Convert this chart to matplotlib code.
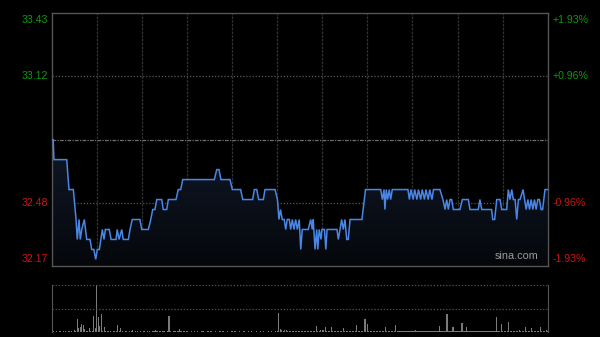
import matplotlib
matplotlib.use('Agg')
import matplotlib.pyplot as plt
import numpy as np
from matplotlib.colors import LinearSegmentedColormap

# ---------------- data ----------------
prev_close = 32.80
pct_range = 0.0193
left_labels = ['33.43', '33.12', '32.48', '32.17']
right_labels = ['+1.93%', '+0.96%', '-0.96%', '-1.93%']
watermark = 'sina.com'

# minutes since open (HK session: 330 trading minutes), last price
price_t = [0, 1, 1.5, 10, 11.5, 14.4, 16.2, 17, 18.2, 19, 20, 21.7, 23.3, 25.5, 26.6,
           28, 29.3, 30.3, 31.7, 33.7, 34.8, 35.7, 38.3, 39.5, 42.8, 43.6, 44.8, 46.6,
           47.6, 51, 52.1, 53.6, 58.7, 59.9, 64.3, 65.9, 67.2, 68.7, 69.9, 73.2, 74.2,
           76.5, 77.6, 82.7, 84.2, 85.8, 87.2, 108.2, 109.8, 111.3, 112.6, 118.6, 120.2,
           125.7, 127.1, 133.7, 134.8, 136.4, 137.7, 140.8, 141.9, 148.6,
           150.2, 151.2, 152.2, 153.4, 154.7, 155.7, 156.7, 158.1, 159, 160.1, 161.2,
           162.3, 163.4, 164.7, 165.7, 166.7, 170.7, 172.3, 173.4, 174, 175.2, 176.3,
           177, 178, 179.2, 179.8, 181.5, 182.4, 183.2, 189.8, 190.7, 191.8, 192.9, 194,
           195.1, 196.3, 197.3, 198.5, 206.4, 208.8, 218.9, 220, 221.1, 221.7, 222.6,
           223.5, 224.6, 225.5, 226.6, 237, 238, 239, 240.5, 241.5, 243, 244, 245.5,
           246.5, 248, 249, 250.5, 251.5, 253, 254, 255, 258.3, 260.3, 261.7, 262.8,
           263.9, 265, 266.1, 267.2, 271.6, 273.2, 277.2, 278.3, 283.8, 284.9, 286.1,
           292.7, 293.4, 294.7, 296.1, 298.3, 299.4, 302.7, 303.8, 304.9, 306.1, 307.1,
           308.3, 309.4, 310.5, 311.6, 313.6, 314.6, 315.7, 316.8, 317.9, 319, 320.1,
           321.2, 322.3, 323.4, 324.5, 325.6, 326.6, 328.2, 330]
price_v = [32.80, 32.80, 32.70, 32.70, 32.55, 32.55, 32.40, 32.30, 32.40, 32.30, 32.35,
           32.40, 32.30, 32.30, 32.25, 32.25, 32.20, 32.25, 32.25, 32.35, 32.30, 32.35,
           32.35, 32.30, 32.30, 32.35, 32.30, 32.35, 32.30, 32.30, 32.35, 32.40, 32.40,
           32.35, 32.35, 32.40, 32.45, 32.45, 32.50, 32.50, 32.45, 32.45, 32.50, 32.50,
           32.55, 32.55, 32.60, 32.60, 32.65, 32.65, 32.60, 32.60, 32.55, 32.55, 32.50,
           32.50, 32.55, 32.55, 32.50, 32.50, 32.55, 32.55,
           32.50, 32.40, 32.45, 32.40, 32.40, 32.35, 32.40, 32.40, 32.35, 32.40, 32.35,
           32.40, 32.35, 32.40, 32.25, 32.35, 32.35, 32.40, 32.35, 32.40, 32.25, 32.35,
           32.25, 32.35, 32.30, 32.35, 32.35, 32.25, 32.35, 32.35, 32.30, 32.35, 32.40,
           32.35, 32.40, 32.30, 32.30, 32.40, 32.40, 32.55, 32.55, 32.50, 32.55, 32.45,
           32.55, 32.50, 32.55, 32.50, 32.55, 32.55, 32.50, 32.55, 32.50, 32.55, 32.50,
           32.55, 32.50, 32.55, 32.50, 32.55, 32.50, 32.55, 32.50, 32.55, 32.55, 32.55,
           32.50, 32.45, 32.50, 32.45, 32.50, 32.50, 32.45, 32.45, 32.50, 32.50, 32.45,
           32.45, 32.50, 32.45, 32.45, 32.40, 32.40, 32.50, 32.50, 32.45, 32.45, 32.55,
           32.50, 32.55, 32.50, 32.50, 32.40, 32.50, 32.50, 32.55, 32.50, 32.45, 32.50,
           32.45, 32.50, 32.45, 32.50, 32.45, 32.50, 32.50, 32.45, 32.45, 32.55, 32.55]

# per-minute volume (relative units), background level
vol_base = [3, 2, 1, 2, 1, 2, 3, 1, 2, 2, 1, 3, 2, 2, 1, 4, 3, 5, 4, 6, 4, 3, 2, 3, 2, 4, 3, 2, 5, 4,
            3, 4, 5, 3, 2, 4, 3, 2, 2, 3, 1, 2, 2, 3, 4, 2, 3, 2, 1, 2, 2, 1, 2, 3, 2, 1, 2, 2, 1, 2,
            1, 2, 2, 1, 3, 2, 1, 2, 3, 2, 2, 1, 2, 1, 2, 2, 1, 3, 2, 2, 1, 2, 2, 1, 2, 3, 2, 1, 2, 1,
            2, 1, 1, 2, 1, 2, 1, 2, 1, 1, 2, 2, 1, 1, 2, 1, 2, 1, 1, 2, 1, 1, 2, 1, 2, 1, 1, 2, 1, 1,
            2, 1, 2, 1, 1, 2, 1, 1, 2, 1, 1, 2, 1, 2, 1, 1, 2, 1, 1, 2, 1, 2, 1, 1, 2, 1, 2, 1, 1, 2,
            2, 3, 4, 3, 2, 3, 4, 3, 2, 3, 2, 3, 2, 2, 3, 2, 2, 3, 2, 2, 3, 2, 2, 3, 2, 3, 2, 2, 3, 2,
            3, 2, 2, 3, 2, 2, 3, 2, 2, 3, 2, 2, 3, 2, 3, 2, 2, 3, 2, 2, 3, 2, 2, 3, 2, 3, 2, 2, 3, 2,
            2, 3, 2, 2, 3, 2, 2, 3, 2, 2, 3, 2, 2, 3, 2, 2, 3, 2, 2, 3, 2, 3, 2, 2, 3, 2, 2, 3, 2, 2,
            3, 2, 2, 3, 2, 3, 2, 2, 3, 2, 2, 3, 2, 2, 3, 2, 3, 2, 2, 3, 2, 2, 3, 2, 2, 3, 2, 3, 2, 2,
            3, 2, 3, 2, 2, 3, 2, 2, 3, 2, 3, 2, 2, 3, 2, 2, 3, 2, 3, 2, 2, 3, 2, 2, 3, 2, 3, 2, 2, 3,
            2, 3, 2, 2, 3, 2, 2, 3, 2, 3, 2, 2, 3, 2, 2, 3, 2, 3, 2, 2, 3, 2, 2, 3, 2, 3, 2, 2, 3, 2,
            3]
vol_spike_t = [11, 17, 18, 19, 20, 21, 22, 25, 28, 29, 30, 31, 32, 33, 35, 44, 46, 54, 69, 78,
               85, 151, 152, 153, 155, 176, 179, 180, 181, 182, 186, 194, 203, 208, 209, 210,
               222, 229, 242, 258, 263, 267, 273, 276, 296, 299, 304, 311, 315, 319, 325, 329]
vol_spike_v = [3, 27, 8, 10, 18, 15, 6, 8, 35, 8, 100, 31, 12, 39, 10, 15, 8, 4, 5, 35,
               7, 40, 7, 5, 4, 13, 5, 5, 5, 11, 11, 8, 15, 28, 28, 18,
               11, 15, 5, 13, 38, 10, 20, 10, 32, 17, 22, 5, 10, 8, 10, 5]

# ---------------- figure ----------------
plt.rcParams['font.family'] = ['Liberation Sans', 'DejaVu Sans']
W, H = 600, 337
fig = plt.figure(figsize=(W / 100, H / 100), dpi=100, facecolor='black')

x0, x1 = 51.7, 547.7
def ax_rect(top_px, bot_px):
    return [x0 / W, 1 - bot_px / H, (x1 - x0) / W, (bot_px - top_px) / H]

GREEN = '#0c9a0c'
RED = '#c81616'
SPINE = '#555555'

ax = fig.add_axes(ax_rect(13.3, 266))
ax.set_facecolor('black')
top = prev_close * (1 + pct_range)
bot = prev_close * (1 - pct_range)
ax.set_xlim(0, 330)
ax.set_ylim(bot, top)

# gradient fill under the line
fill = ax.fill_between(price_t, price_v, bot, facecolor='none', edgecolor='none')
grad = np.linspace(1, 0, 256).reshape(-1, 1)
cmap = LinearSegmentedColormap.from_list('g', ['#05070b', '#101828'])
im = ax.imshow(grad, extent=[0, 330, bot, max(price_v)], aspect='auto', cmap=cmap,
               origin='upper', zorder=1, interpolation='bicubic')
im.set_clip_path(fill.get_paths()[0], transform=ax.transData)

# grid
for m in range(30, 330, 30):
    ax.axvline(m, color='#333333', lw=0.9, ls=(0, (2, 1)), zorder=0.5)
levels = [prev_close * (1 + pct_range / 2), prev_close * (1 - pct_range / 2)]
for lv in levels:
    ax.axhline(lv, color='#5a5a5a', lw=0.9, ls=(0, (1, 1.5)), zorder=0.6)
ax.axhline(prev_close, color='#6e6e6e', lw=0.9, ls=(0, (3, 1, 1, 1)), zorder=0.6)

ax.plot(price_t, price_v, color='#4a86e6', lw=1.1, zorder=3, solid_joinstyle='miter')

for s in ax.spines.values():
    s.set_color(SPINE)
    s.set_linewidth(1)
ax.set_xticks([])
ax.set_yticks([])

# labels
vals = [top, levels[0], levels[1], bot]
vas = ['top', 'center', 'center', 'bottom']
offs = [-0.006, 0, 0, 0.008]
for i, (v, va) in enumerate(zip(vals, vas)):
    col = GREEN if i < 2 else RED
    yy = v + offs[i] * (top - bot)
    ax.text(-0.0075, yy, left_labels[i], transform=ax.get_yaxis_transform(),
            ha='right', va=va, color=col, fontsize=7.6)
    ax.text(1.0105, yy, right_labels[i], transform=ax.get_yaxis_transform(),
            ha='left', va=va, color=col, fontsize=7.6)
ax.text(0.981, 0.018, watermark, transform=ax.transAxes, ha='right', va='bottom',
        color='#9a9a9a', fontsize=7.8, zorder=4)

# volume panel
vax = fig.add_axes(ax_rect(285, 332))
vax.set_facecolor('black')
vols = list(vol_base)
for t, v in zip(vol_spike_t, vol_spike_v):
    vols[t] = v
vax.bar(range(len(vols)), vols, width=0.8, color='#7a7a7a', linewidth=0)
vax.set_xlim(0, 330)
vax.set_ylim(0, 100)
vax.axhline(100, color='#555555', lw=0.9, ls=(0, (1, 1.5)), clip_on=False)
vax.axhline(50, color='#555555', lw=0.9, ls=(0, (1, 1.5)))
vax.spines['top'].set_visible(False)
vax.spines['bottom'].set_visible(False)
vax.spines['left'].set_color(SPINE)
vax.spines['right'].set_color(SPINE)
vax.set_xticks([])
vax.set_yticks([])

fig.savefig('out.png', dpi=100, facecolor='black')
